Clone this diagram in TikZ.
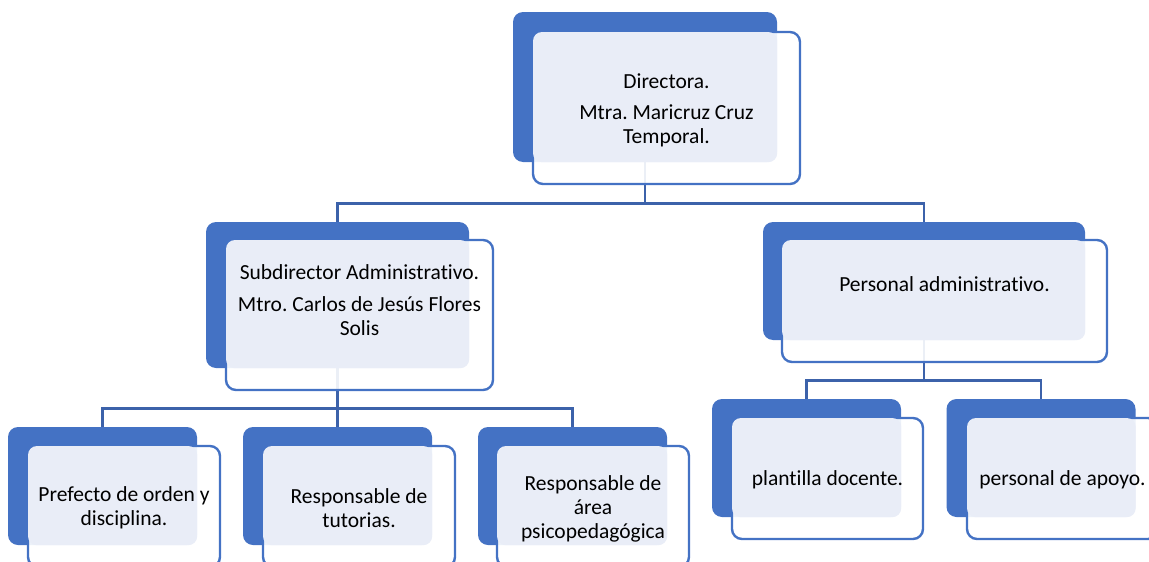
\documentclass[tikz,border=0pt]{standalone}
\usepackage{fontspec}
\setmainfont[Ligatures=NoCommon]{Carlito}
\usetikzlibrary{arrows,shapes,positioning,calc}
\definecolor{boxblue}{RGB}{68,114,196}
\definecolor{boxlite}{RGB}{233,237,247}
\definecolor{linkblue}{RGB}{60,98,170}
\frenchspacing

\begin{document}
\begin{tikzpicture}[x=1pt,y=1pt]
                    \tikzstyle{every node}+=[inner sep=0pt]
                    \tikzstyle{back}=[rectangle, rounded corners=10pt, fill=boxblue]
                    \tikzstyle{front}=[rectangle, rounded corners=10pt, draw=boxblue, line width=2.4pt, fill=white, fill opacity=0.9]
                    \tikzstyle{lite}=[fill=boxlite, rounded corners=9pt]
                    \tikzstyle{link}=[draw=linkblue, line width=2.8pt]
                    \tikzstyle{txt}=[align=center, font=\fontsize{21.5}{24}\selectfont]
                    \clip (0,0) rectangle (1149,-562);
                    % back boxes
                    \node [back, minimum width=264pt, minimum height=150pt] (dirB) at (645,-87) {};
                    \node [back, minimum width=263pt, minimum height=146pt] (subB) at (337.5,-295) {};
                    \node [back, minimum width=322pt, minimum height=118pt] (perB) at (924,-281) {};
                    \node [back, minimum width=189pt, minimum height=118pt] (preB) at (102.5,-486) {};
                    \node [back, minimum width=189pt, minimum height=118pt] (tutB) at (337.5,-486) {};
                    \node [back, minimum width=189pt, minimum height=118pt] (psiB) at (572.5,-486) {};
                    \node [back, minimum width=189pt, minimum height=118pt] (plaB) at (806.5,-458) {};
                    \node [back, minimum width=189pt, minimum height=118pt] (apoB) at (1041,-458) {};
                    % links
                    \draw [link] (dirB.south) -- ++(0,-41) coordinate (dirbus);
                    \draw [link] (subB.north) |- (dirbus) -| (perB.north);
                    \draw [link] (subB.south) -- ++(0,-40) coordinate (subbus);
                    \draw [link] (preB.north) |- (subbus) -| (psiB.north);
                    \draw [link] (subbus) -- (tutB.north);
                    \draw [link] (perB.south) -- ++(0,-40) coordinate (perbus);
                    \draw [link] (plaB.north) |- (perbus) -| (apoB.north);
                    % front boxes
                    \node [front, minimum width=267pt, minimum height=152pt] (dirF) at (666.5,-108) {};
                    \node [front, minimum width=267pt, minimum height=150pt] (subF) at (359.5,-315) {};
                    \node [front, minimum width=325pt, minimum height=122pt] (perF) at (944.5,-301) {};
                    \node [front, minimum width=192pt, minimum height=121pt] (preF) at (124,-506.5) {};
                    \node [front, minimum width=192pt, minimum height=121pt] (tutF) at (359,-506.5) {};
                    \node [front, minimum width=192pt, minimum height=121pt] (psiF) at (593,-506.5) {};
                    \node [front, minimum width=191pt, minimum height=121pt] (plaF) at (827.5,-478.5) {};
                    \node [front, minimum width=191pt, minimum height=121pt] (apoF) at (1062.5,-478.5) {};
                    % light parts
                    \fill [lite] ([shift={(1.2,-1.2)}]dirF.north west) rectangle (dirB.south east);
                    \fill [lite] ([shift={(1.2,-1.2)}]subF.north west) rectangle (subB.south east);
                    \fill [lite] ([shift={(1.2,-1.2)}]perF.north west) rectangle (perB.south east);
                    \fill [lite] ([shift={(1.2,-1.2)}]preF.north west) rectangle (preB.south east);
                    \fill [lite] ([shift={(1.2,-1.2)}]tutF.north west) rectangle (tutB.south east);
                    \fill [lite] ([shift={(1.2,-1.2)}]psiF.north west) rectangle (psiB.south east);
                    \fill [lite] ([shift={(1.2,-1.2)}]plaF.north west) rectangle (plaB.south east);
                    \fill [lite] ([shift={(1.2,-1.2)}]apoF.north west) rectangle (apoB.south east);
                    % texts
                    \node [txt] (dirT) at (666.5,-110) {Directora.\\[7pt]Mtra. Maricruz Cruz\\Temporal.};
                    \node [txt] (subT) at (359.5,-300) {Subdirector Administrativo.\\[8pt]Mtro. Carlos de Jesús Flores\\Solis};
                    \node [txt, anchor=base] (perT) at (944.5,-291) {Personal administrativo.};
                    \node [txt] (preT) at (124,-508) {Prefecto de orden y\\disciplina.};
                    \node [txt] (tutT) at (359,-508) {Responsable de\\tutorias.};
                    \node [txt] (psiT) at (593,-509) {Responsable de\\área\\psicopedagógica};
                    \node [txt, anchor=base] (plaT) at (827.5,-485) {plantilla docente.};
                    \node [txt, anchor=base] (apoT) at (1062.5,-485) {personal de apoyo.};
\end{tikzpicture}
\end{document}
